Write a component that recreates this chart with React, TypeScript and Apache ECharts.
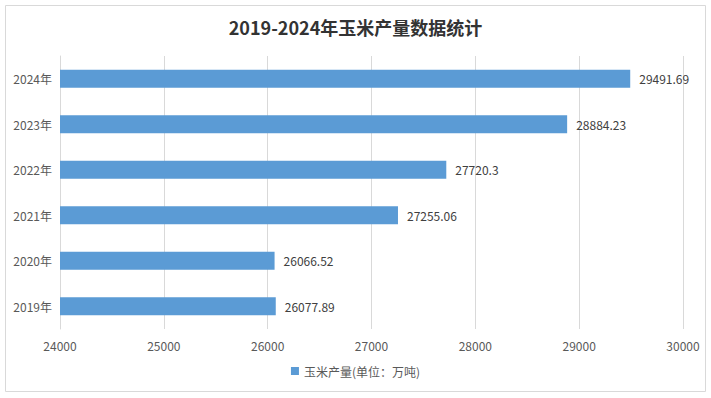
import React, { useEffect, useRef } from "react";
import * as echarts from "echarts";

const categories = ["2019年", "2020年", "2021年", "2022年", "2023年", "2024年"];
const production = [26077.89, 26066.52, 27255.06, 27720.3, 28884.23, 29491.69];
const seriesName = "玉米产量(单位：万吨)";
const titleText = "2019-2024年玉米产量数据统计";

export default function App() {
  const ref = useRef<HTMLDivElement>(null);
  useEffect(() => {
    if (!ref.current) return;
    const chart = echarts.init(ref.current, null, { renderer: "svg" });
    const cjk = '"Noto Sans CJK SC", "Noto Sans", sans-serif';
    chart.setOption({
      animation: false,
      backgroundColor: "#ffffff",
      title: {
        text: titleText,
        left: "center",
        top: 13,
        textStyle: { fontFamily: cjk, fontSize: 18, fontWeight: "bold", color: "#333333" },
      },
      graphic: [
        {
          type: "rect",
          shape: { x: 5.5, y: 5.5, width: 700, height: 386 },
          style: { fill: "none", stroke: "#d9d9d9", lineWidth: 1 },
          silent: true,
        },
      ],
      legend: {
        bottom: 16,
        left: "center",
        itemWidth: 8,
        itemHeight: 8,
        icon: "rect",
        itemGap: 10,
        textStyle: { fontFamily: cjk, fontSize: 12, color: "#595959" },
        data: [seriesName],
      },
      grid: { left: 60, right: 28, top: 56, bottom: 69, containLabel: false },
      xAxis: {
        type: "value",
        min: 24000,
        max: 30000,
        interval: 1000,
        axisLine: { show: false },
        axisTick: { show: false },
        splitLine: { show: true, lineStyle: { color: "#d9d9d9", width: 1 } },
        axisLabel: {
          color: "#595959",
          fontSize: 12,
          fontFamily: cjk,
          margin: 10,
          formatter: (v: number) => String(v),
        },
      },
      yAxis: {
        type: "category",
        data: categories,
        axisLine: { show: true, lineStyle: { color: "#d9d9d9" } },
        axisTick: { show: false },
        axisLabel: { color: "#595959", fontSize: 12, fontFamily: cjk, margin: 8 },
      },
      series: [
        {
          name: seriesName,
          type: "bar",
          data: production,
          barWidth: 18,
          itemStyle: { color: "#5b9bd5" },
          label: {
            show: true,
            position: "right",
            distance: 9,
            color: "#404040",
            fontSize: 12,
            fontFamily: cjk,
            formatter: (p: any) => String(p.value),
          },
        },
      ],
    });
    return () => chart.dispose();
  }, []);
  return (
    <div
      ref={ref}
      style={{ position: "absolute", left: 0, top: 0, width: 711, height: 398 }}
    />
  );
}
